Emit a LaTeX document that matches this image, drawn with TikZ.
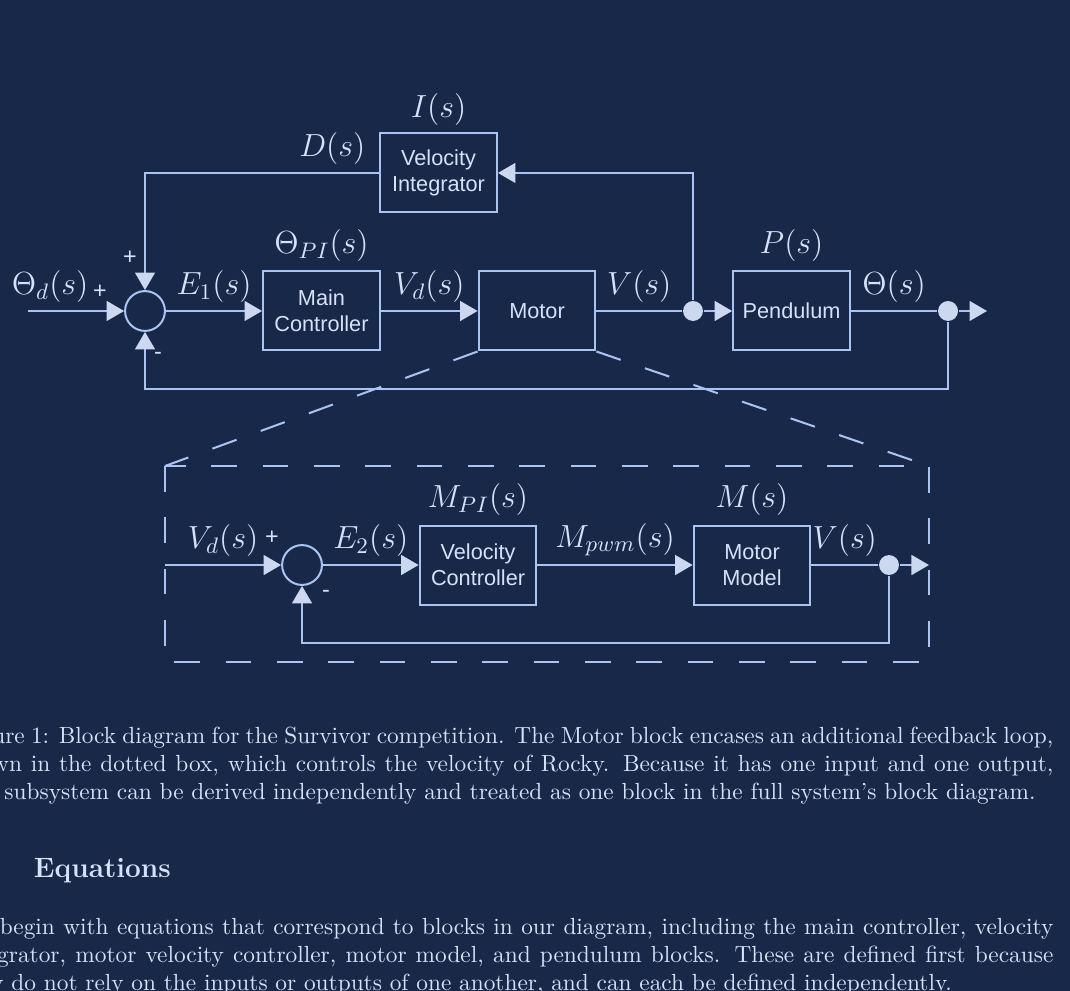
\RequirePackage{fix-cm}
\documentclass[tikz,border=0pt]{standalone}
\usepackage{fontspec}
\setsansfont{Liberation Sans}
\usetikzlibrary{positioning,arrows.meta,shapes}
\definecolor{bgnavy}{RGB}{24,40,72}
\definecolor{linecol}{RGB}{170,196,242}
\definecolor{tipcol}{RGB}{204,216,240}
\definecolor{txtcol}{RGB}{214,226,250}

\begin{document}
\begin{tikzpicture}[->,>={Triangle[length=7.5pt,width=8.5pt,color=tipcol]},
  line width=0.86pt,color=linecol,
  block/.style={rectangle,draw,minimum width=1.76cm,minimum height=1.19cm,align=center,text=txtcol,font=\sffamily\fontsize{9.3pt}{11.2pt}\selectfont},
  sumnode/.style={circle,draw,minimum size=0.6cm,inner sep=0pt},
  tap/.style={circle,fill=tipcol,draw=none,minimum size=0.3cm,inner sep=0pt},
  sig/.style={text=txtcol,inner sep=3.3pt,font=\fontsize{13.7pt}{16pt}\selectfont},
  sgn/.style={text=txtcol,font=\sffamily\fontsize{10pt}{12pt}\selectfont},
  zoomline/.style={-,dash pattern=on 11pt off 11pt},
  para/.style={text=txtcol,anchor=base west,inner sep=0pt}]
  \fill[-,bgnavy] (-2.184,4.684) rectangle (13.932,-10.242);
  \useasboundingbox (-2.184,4.684) rectangle (13.932,-10.242);

  % outer loop
  \node[sumnode] (sum1) at (0,0) {};
  \node[coordinate] (in) [left of=sum1, node distance=1.762cm] {};
  \node[block] (main) [right of=sum1, node distance=2.658cm,
    label={[sig]above:$\Theta_{PI}(s)$}] {Main\\Controller};
  \node[block] (motor) [right of=main, node distance=3.246cm] {Motor};
  \node[tap] (vtap) [right of=motor, node distance=2.35cm] {};
  \node[block] (pend) [right of=vtap, node distance=1.484cm,
    label={[sig]above:$P(s)$}] {Pendulum};
  \node[tap] (otap) [right of=pend, node distance=2.357cm] {};
  \node[coordinate] (out) [right of=otap, node distance=0.587cm] {};
  \node[coordinate] (fbc) [below of=otap, node distance=1.175cm] {};
  \node[block] (integ) at (4.421,2.079)
    [label={[sig,inner sep=2.5pt]above:$I(s)$}] {Velocity\\Integrator};

  \draw (in) -- node[sig,pos=0.23,above] {$\Theta_d(s)$} (sum1);
  \draw (sum1) -- node[sig,above] {$E_1(s)$} (main);
  \draw (main) -- node[sig,above] {$V_d(s)$} (motor);
  \draw[-] (motor) -- node[sig,above] {$V(s)$} (vtap);
  \draw (vtap) -- (pend);
  \draw[-] (pend) -- node[sig,above] {$\Theta(s)$} (otap);
  \draw (otap) -- (out);
  \draw (vtap) |- (integ);
  \draw (integ) -| node[sig,pos=0.1,above] {$D(s)$} (sum1);
  \draw (otap) -- (fbc) -| (sum1);

  \node[sgn] at ([shift={(-0.678,0.286)}]sum1) {+};
  \node[sgn] at ([shift={(-0.226,0.798)}]sum1) {+};
  \node[sgn] at ([shift={(0.196,-0.678)}]sum1) {-};

  % motor subsystem
  \coordinate (boxnw) at (0.301,-2.335);
  \coordinate (boxne) at (11.809,-2.335);
  \coordinate (boxse) at (11.809,-5.287);
  \draw[zoomline] (boxnw) rectangle (boxse);
  \draw[zoomline] (motor.south west) -- (boxnw);
  \draw[zoomline] (motor.south east) -- (boxne);

  \node[sumnode] (sum2) at (2.365,-3.826) {};
  \node[coordinate] (vin) [left of=sum2, node distance=2.064cm] {};
  \node[block] (vctrl) [right of=sum2, node distance=2.651cm,
    label={[sig]above:$M_{PI}(s)$}] {Velocity\\Controller};
  \node[block] (mmodel) [right of=vctrl, node distance=4.127cm,
    label={[sig]above:$M(s)$}] {Motor\\Model};
  \node[tap] (itap) [right of=mmodel, node distance=2.063cm] {};
  \node[coordinate] (vout) [right of=itap, node distance=0.602cm] {};
  \node[coordinate] (ifb) [below of=itap, node distance=1.175cm] {};

  \draw (vin) -- node[sig,above] {$V_d(s)$} (sum2);
  \draw (sum2) -- node[sig,above] {$E_2(s)$} (vctrl);
  \draw (vctrl) -- node[sig,above] {$M_{pwm}(s)$} (mmodel);
  \draw[-] (mmodel) -- node[sig,above] {$V(s)$} (itap);
  \draw (itap) -- (vout);
  \draw (itap) -- (ifb) -| (sum2);

  \node[sgn] at ([shift={(-0.452,0.407)}]sum2) {+};
  \node[sgn] at ([shift={(0.361,-0.437)}]sum2) {-};

  % page text
  \node[para] (capt) at (-2.817,-6.507) {\parbox[t]{469pt}{\fontsize{10pt}{12pt}\selectfont
    Figure 1: Block diagram for the Survivor competition. The Motor block encases an additional feedback loop,\linebreak
    shown in the dotted box, which controls the velocity of Rocky. Because it has one input and one output,\linebreak
    this subsystem can be derived independently and treated as one block in the full system's block diagram.}};
  \node[para] (sect) at (-1.687,-8.525) {\large\bfseries Equations};
  \node[para] (body) at (-2.817,-9.384) {\parbox[t]{469pt}{\fontsize{10pt}{12pt}\selectfont
    We begin with equations that correspond to blocks in our diagram, including the main controller, velocity\linebreak
    integrator, motor velocity controller, motor model, and pendulum blocks. These are defined first because\linebreak
    they do not rely on the inputs or outputs of one another, and can each be defined independently.}};
\end{tikzpicture}
\end{document}
